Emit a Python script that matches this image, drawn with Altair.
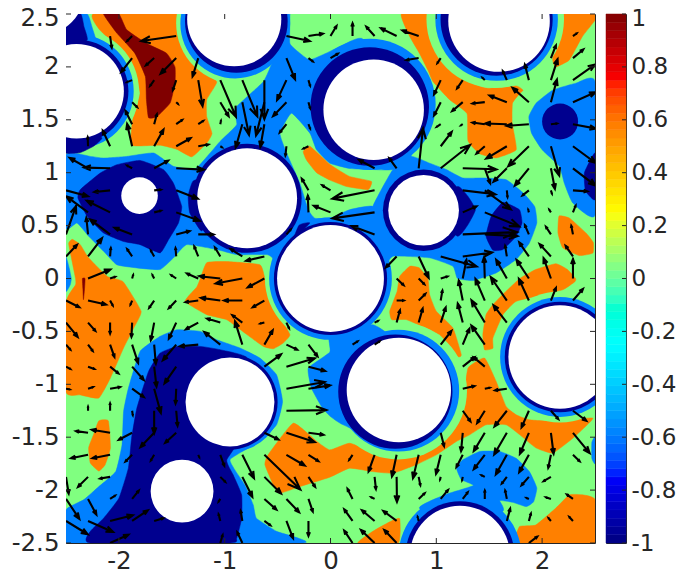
import altair as alt
import pandas as pd

NAVY, AZURE, GREEN, ORANGE, RED = "#00008f", "#0080ff", "#80ff80", "#ff8000", "#800000"
INK = "#262626"
XTICKS = [-2, -1, 0, 1, 2]
YTICKS = [-2.5, -2, -1.5, -1, -0.5, 0, 0.5, 1, 1.5, 2, 2.5]
CTICKS = [-1, -0.8, -0.6, -0.4, -0.2, 0, 0.2, 0.4, 0.6, 0.8, 1]
JET_DOMAIN = [-1, -0.75, -0.25, 0.25, 0.75, 1]
JET_RANGE = ["#000080", "#0000ff", "#00ffff", "#ffff00", "#ff0000", "#800000"]

orange_regions = [
    [(-2.24,2.5),(-1.45,2.5),(-1.447,2.38),(-1.374,2.19),(-1.233,2.0),(-1.075,1.86),(-1.17,1.69),(-1.17,1.53),(-1.12,1.37),(-1.17,1.28),(-1.31,1.15),(-1.45,1.22),(-1.61,1.26),(-1.88,1.26),(-1.87,1.5),(-1.8,1.75),(-1.85,1.94),(-1.94,2.1),(-2.08,2.25),(-2.19,2.36)],
    [(-2.44,.37),(-2.365,.32),(-2.286,.195),(-2.11,.02),(-1.96,-.03),(-1.79,-.31),(-1.86,-.468),(-1.956,-.657),(-2.08,-.94),(-2.19,-1.13),(-2.365,-1.1),(-2.5,-1.07),(-2.5,-.23),(-2.41,-.06),(-2.41,0),(-2.44,.15),(-2.475,.33)],
    [(-1.23,0),(-1.17,.15),(-.98,.16),(-.667,.13),(-.62,0),(-.57,-.153),(-.51,-.31),(-.384,-.53),(-.447,-.61),(-.54,-.664),(-.635,-.642),(-.79,-.53),(-.98,-.39),(-1.17,-.342),(-1.374,-.216),(-1.264,-.08)],
    [(-2.19,-1.345),(-2.1,-1.345),(-2.08,-1.6),(-2.13,-1.76),(-2.19,-1.82),(-2.27,-1.745),(-2.286,-1.6),(-2.24,-1.477)],
    [(-.62,-1.76),(-.59,-1.667),(-.352,-1.367),(-.13,-1.54),(-.006,-1.62),(.18,-1.557),(.40,-1.635),(.62,-1.683),(.84,-1.65),(1.03,-1.57),(1.17,-1.383),(1.25,-1.19),(1.30,-.847),(1.456,-.752),(1.566,-.973),(1.66,-1.21),(1.755,-1.288),(1.88,-1.336),(2.13,-1.35),(2.48,-1.32),(2.29,-1.51),(2.1,-1.65),(1.94,-1.6),(1.79,-1.478),(1.66,-1.383),(1.47,-1.383),(1.315,-1.478),(1.19,-1.54),(1.0,-1.667),(.81,-1.76),(.59,-1.84),(.40,-1.825),(.18,-1.793),(-.006,-1.878),(-.29,-1.967),(-.48,-2.03),(-.54,-1.95)],
    [(.654,.02),(.75,.116),(.84,.1),(.92,0),(.937,-.153),(1.0,-.31),(1.157,-.468),(1.236,-.72),(1.2,-.736),(1.03,-.53),(.72,-.39),(.58,-.39),(.56,-.31),(.63,-.12)],
    [(1.79,0),(1.94,.085),(2.13,.14),(2.24,.085),(2.316,0),(2.31,-.03),(2.2,-.105),(2.01,-.153),(1.755,-.216),(1.63,-.342),(1.535,-.563),(1.535,-.66),(1.456,-.673),(1.44,-.53),(1.47,-.342),(1.535,-.247),(1.66,-.12)],
    [(.67,2.5),(1.03,2.5),(1.25,1.91),(1.47,1.8),(1.755,1.82),(1.82,1.78),(1.786,1.745),(1.72,1.657),(1.717,1.47),(1.755,1.217),(1.566,1.14),(1.41,1.18),(1.3,1.3),(1.29,1.56),(1.126,1.69),(.97,1.86),(.92,1.97),(.84,2.13),(.75,2.286)],
    [(2.195,2.5),(2.5,2.5),(2.5,2.44),(2.38,2.286),(2.258,2.066),(2.13,2.0),(2.1,2.07),(2.13,2.35)],
    [(2.16,.59),(2.26,.57),(2.415,.43),(2.484,.34),(2.48,.24),(2.35,.217),(2.195,.29),(2.15,.43)],
    [(-.258,1.2),(-.195,1.25),(0,1.075),(.18,.965),(.387,.918),(.355,.84),(.15,.87),(-.006,.93),(-.132,1.0),(-.227,1.12)],
    [(.654,-2.27),(.64,-2.5),(.26,-2.5),(.40,-2.39),(.56,-2.3)],
    [(1.77,-2.5),(1.786,-2.345),(1.94,-2.33),(2.13,-2.17),(2.258,-2.045),(2.384,-2.045),(2.5,-2.09),(2.5,-2.5)],
]
red_regions = [
    [(-2.145,2.5),(-2.0,2.5),(-1.925,2.35),(-1.735,2.22),(-1.55,2.13),(-1.47,2.0),(-1.47,1.85),(-1.515,1.66),(-1.64,1.53),(-1.72,1.52),(-1.74,1.69),(-1.75,1.91),(-1.85,2.13),(-2.02,2.32)],
    [(-2.345,0),(-2.32,0),(-2.325,-.1),(-2.335,-.2),(-2.34,-.1)],
]
azure_regions = [
    [(-2.5,1.17),(-2.27,1.154),(-2.145,1.138),(-1.925,1.154),(-1.67,1.186),(-1.484,1.06),(-1.28,1.035),(-1.138,1.186),(-1.044,1.296),(-.887,1.453),(-.9,1.61),(-.635,1.86),(-.54,2.066),(-.415,2.35),(-.384,2.5),(-.384,2.223),(-.29,2.13),(-.195,2.066),(-.04,2.13),(.12,2.208),(.31,2.26),(.62,1.594),(.764,1.154),(.59,1.03),(.40,1.03),(.18,1.04),(-.006,1.09),(-.132,1.217),(-.195,1.374),(-.368,1.563),(-.478,1.374),(-.415,1.186),(-.29,.9),(-.21,.65),(-.148,.57),(0,.57),(.18,.65),(.40,.68),(.42,.4),(.50,.116),(0,0),(-.54,0),(-.54,.18),(-.60,.226),(-.887,.226),(-1.075,.274),(-1.36,.32),(-1.484,.195),(-1.61,.085),(-1.83,.1),(-2.02,.13),(-2.145,.258),(-2.286,.4),(-2.396,.525),(-2.5,.478)],
    [(.764,1.154),(.937,1.09),(1.094,1.03),(1.25,.95),(1.44,.95),(1.66,.934),(1.82,.81),(1.93,.68),(1.95,.525),(1.88,.336),(1.755,.18),(1.566,.053),(1.41,0),(1.346,-.02),(1.2,0),(1.157,.116),(.937,.195),(.59,.21),(.497,.1),(.40,.4),(.40,.68),(.59,1.03)],
    [(-2.5,-2.187),(-2.33,-2.09),(-2.19,-1.967),(-2.03,-1.825),(-1.97,-1.57),(-1.956,-1.257),(-1.91,-1.036),(-1.8,-.689),(-1.61,-.547),(-1.45,-.484),(-1.23,-.5),(-1.075,-.579),(-.855,-.657),(-.667,-.752),(-.51,-.91),(-.453,-1.162),(-.51,-1.383),(-.667,-1.54),(-.95,-1.714),(-.81,-1.95),(-.73,-2.14),(-.7,-2.266),(-.51,-2.39),(-.258,-2.5),(-2.5,-2.5)],
    [(2.5,1.86),(2.32,1.846),(2.1,1.78),(1.943,1.657),(1.875,1.53),(1.9,1.374),(2.0,1.217),(2.164,1.06),(2.21,.9),(2.29,.714),(2.5,.6)],
    [(1.19,-1.79),(1.25,-1.714),(1.41,-1.635),(1.6,-1.635),(1.755,-1.7),(1.88,-1.825),(1.95,-1.98),(1.92,-2.11),(1.85,-2.156),(1.72,-2.115),(1.6,-2.1),(1.63,-2.2),(1.22,-2.487),(.84,-2.17),(1.094,-2.04),(1.35,-1.957),(1.236,-1.9)],
    [(-.006,-.695),(-.21,-.847),(-.18,-1.036),(-.085,-1.21),(-.006,-1.30),(.12,-1.383),(.62,-1.57),(.62,-.626),(.40,-.437),(-.006,-.53)],
    [(-2.5,2.5),(-2.3,2.5),(-2.255,2.38),(-2.21,2.19),(-2.5,2.19)],
    [(-2.5,.2),(-2.47,.1),(-2.45,0),(-2.46,-.06),(-2.5,-.12)],
    [(2.47,-1.55),(2.5,-1.5),(2.5,-1.75),(2.47,-1.7)],
]
navy_regions = [
    [(-2.387,.76),(-2.365,.84),(-2.176,.997),(-2.02,1.075),(-1.8,1.116),(-1.58,1.03),(-1.484,.9),(-1.406,.68),(-1.437,.525),(-1.53,.368),(-1.61,.242),(-1.8,.32),(-1.956,.35),(-2.145,.43),(-2.3,.588)],
    [(-2.5,2.5),(-2.36,2.5),(-2.33,2.38),(-2.3,2.255),(-2.5,2.19)],
    [(-2.5,1.34),(-2.5,1.186),(-2.365,1.19),(-2.24,1.25),(-2.16,1.33),(-2.365,1.4)],
    [(-1.30,.92),(-1.345,.78),(-1.33,.62),(-1.22,.45),(-1.1,.6),(-1.15,.95)],
    [(-.52,.05),(-.46,.24),(-.352,.368),(-.195,.525),(-.3,.5),(-.42,.2)],
    [(1.2,.87),(1.3,.775),(1.37,.65),(1.3,.51),(1.2,.4),(.94,.65)],
    [(2.5,1.186),(2.4,1.0),(2.41,.83),(2.5,.745)],
    [(1.63,.72),(1.786,.65),(1.81,.525),(1.755,.4),(1.63,.274),(1.535,.267),(1.47,.4),(1.52,.59)],
    [(-2.27,-2.5),(-2.27,-2.39),(-2.145,-2.266),(-2.0,-2.077),(-1.91,-1.79),(-1.88,-1.51),(-1.83,-1.225),(-1.72,-.878),(-1.61,-.705),(-1.45,-.642),(-1.23,-.642),(-1.044,-.673),(-.79,-.752),(-.95,-1.167),(-.79,-1.415),(-.98,-1.714),(-.92,-1.856),(-.84,-2.045),(-.84,-2.266),(-.887,-2.456),(-.95,-2.5)],
]
# circles as (centre x, centre y, radius)
green_rings = [(-2.40,1.77,.59),(-.887,2.412,.572),(0,0,.62),(1.557,2.45,.65),(.64,-1.06,.65),(2.169,-.742,.62)]
azure_rings = [(-2.40,1.77,.54),(-.90,2.41,.519),(0,0,.58),(.374,1.645,.62),(1.57,2.447,.579),(.64,-1.06,.576),(2.169,-.742,.566),(1.224,-2.62,.58),(-.95,-1.155,.487)]
navy_rings = [(-2.40,1.77,.49),(-.89,2.43,.485),(-.788,.758,.515),(0,0,.535),(.371,1.625,.56),(1.57,2.447,.53),(.88,.645,.385),(.613,-1.07,.54),(2.169,-.742,.522),(1.224,-2.62,.515),(-.95,-1.167,.45),(2.17,1.484,.17)]
holes = [(-2.40,1.77,.447),(-.91,2.45,.445),(-1.805,.783,.173),(-.788,.758,.472),(0,0,.505),(.408,1.595,.475),(1.593,2.434,.48),(.88,.645,.334),(.646,-1.054,.493),(2.169,-.742,.488),(1.224,-2.62,.472),(-.95,-1.167,.42),(-1.403,-2.01,.297),(-2.72,2.7,.39)]

GRID_START, GRID_STEP = -2.5, 5 / 24
ARROW_SCALE = 1 / 318
# quiver values per grid row: (column, u, v)
quiver = {
 1: [(2,5,-35),(3,-15,-15),(5,-105,-15),(10,70,-15),(11,43,7),(12,18,30),(13,0,38),(14,-25,28),(15,-47,23),(16,-49,17),(23,11,8)],
 2: [(3,-33,-42),(4,-25,-22),(5,-47,-47),(6,-17,-55),(10,26,-64),(11,13,-10),(12,22,13),(16,-37,-6),(17,-10,-15),(22,15,38),(23,31,26)],
 3: [(3,-15,-6),(4,-12,-17),(5,-10,-30),(6,13,-78),(7,47,-110),(8,45,-109),(9,0,-117),(10,-28,-60),(11,5,-17),(17,-20,-43),(18,-17,-25),(19,-7,7),(20,-12,27),(21,-12,47),(22,20,63),(23,66,47)],
 4: [(3,15,-15),(5,5,-5),(7,25,-42),(8,20,-98),(9,-25,-100),(10,-40,-42),(11,5,-18),(17,-20,-40),(18,-32,-27),(19,-37,-4),(20,-52,20),(21,-49,43),(22,18,68),(23,68,30)],
 5: [(3,-20,40),(4,8,30),(5,18,13),(6,15,10),(7,2,10),(8,-20,-70),(9,-12,-68),(10,-20,-25),(11,5,-13),(17,-12,-8),(18,-5,-3),(19,-37,5),(20,-65,2),(21,-67,-5),(22,18,2),(23,68,-13)],
 6: [(1,-1,27),(2,-22,47),(3,-15,67),(4,28,50),(5,43,24),(6,30,5),(7,5,-3),(10,-3,-28),(11,-15,-7),(17,33,43),(19,-25,-22),(20,-62,-37),(21,-62,-60),(22,25,-88),(23,68,-50)],
 7: [(1,-55,31),(2,-78,2),(3,-15,8),(4,42,23),(5,83,-4),(14,-47,25),(15,-22,30),(16,13,120),(17,88,70),(18,101,-3),(19,16,-45),(20,-40,-40),(21,-42,-52),(22,12,-62),(23,68,-52)],
 8: [(0,66,-18),(2,-47,-5),(4,20,2),(5,65,-25),(11,-20,35),(12,-25,15),(14,-127,-25),(18,98,-12),(19,78,-57),(20,2,-20),(21,-19,-15),(22,3,-10),(23,43,-3)],
 9: [(1,-65,48),(2,-70,35),(4,20,5),(5,70,-25),(11,-2,50),(12,-50,20),(14,-127,-18),(18,41,18),(19,103,-42),(21,-2,8),(22,-5,8),(23,8,20)],
 10: [(0,30,85),(1,-5,50),(2,-60,45),(3,-53,20),(5,40,10),(6,46,0),(10,13,15),(14,-69,25),(18,163,7),(19,98,-5),(21,-12,28),(22,-15,23),(23,-5,26)],
 11: [(0,33,35),(1,42,55),(2,2,25),(3,-15,22),(4,-10,18),(5,-2,25),(6,-12,30),(7,-16,27),(8,-35,22),(9,-55,-13),(15,-32,-33),(16,30,-64),(17,108,-30),(18,88,12),(20,-5,32),(21,-29,42),(22,-34,37),(23,-22,32)],
 12: [(1,67,27),(2,15,5),(3,3,10),(4,-5,10),(5,-15,10),(6,-34,15),(7,-63,7),(8,-80,-15),(9,-50,-27),(15,21,-20),(16,17,-17),(17,20,6),(18,11,56),(19,-2,64),(20,-32,56),(21,-37,56),(22,-22,61),(23,0,58)],
 13: [(0,40,-20),(1,54,-12),(2,8,-15),(3,-5,-12),(4,-15,-22),(5,-22,-23),(6,-38,-5),(7,-58,8),(8,-55,0),(9,-35,-20),(15,21,0),(16,20,20),(17,5,30),(18,-12,60),(19,-28,65),(20,-48,70),(21,-30,65),(22,15,38),(23,30,35)],
 14: [(0,35,-43),(1,22,-25),(2,0,-33),(3,-2,-43),(4,-10,-53),(5,-22,-48),(6,-37,-20),(7,-40,12),(8,-30,22),(9,-12,-3),(10,8,-17),(14,10,5),(15,10,37),(16,12,42),(17,15,45),(18,-15,57),(19,-40,67),(20,-40,52)],
 15: [(0,13,-15),(1,14,-19),(2,13,-37),(3,18,-55),(4,5,-58),(5,-40,-47),(6,-55,-5),(7,-48,38),(8,-22,70),(9,25,43),(10,32,-15),(11,27,-35),(13,15,10),(14,15,10),(17,32,41),(18,20,48),(19,-40,57)],
 16: [(0,13,-7),(1,19,-7),(2,25,-20),(3,35,-40),(4,7,-60),(5,-35,-50),(9,50,37),(10,85,25),(11,50,-13),(18,35,28),(19,-33,28)],
 17: [(0,11,-2),(1,15,5),(2,30,5),(3,35,-25),(4,20,-73),(5,-2,-45),(10,115,20),(11,65,10),(18,35,8),(19,15,3),(20,-35,-5)],
 18: [(1,0,12),(2,0,22),(3,2,-13),(4,0,-68),(5,4,-45),(10,120,2),(18,23,-32),(19,-23,-37),(20,-37,-47),(21,-22,-50),(22,22,-25),(23,40,-30)],
 19: [(1,-36,5),(2,-55,9),(3,-40,-21),(4,-41,-43),(5,-33,-30),(9,42,-20),(10,85,-28),(11,45,-6),(17,10,-40),(18,-5,-55),(19,-33,-55),(20,-38,-65),(21,-27,-63),(22,8,-63),(23,50,-61)],
 20: [(1,-51,-10),(2,-53,-10),(3,-20,-20),(4,-10,-17),(6,3,-7),(7,12,-33),(8,35,-70),(9,108,-104),(10,55,-32),(11,30,-19),(13,-10,-15),(14,-18,-50),(15,-14,-65),(16,-17,-70),(17,-14,-57),(18,-19,-37),(19,-33,-43),(20,-33,-59),(21,-29,-52),(22,-8,-39),(23,20,-19)],
 21: [(0,8,-50),(1,-30,-30),(2,-30,-5),(7,15,-15),(8,30,-60),(9,50,-50),(11,20,-30),(14,4,-37),(15,1,-75),(16,5,-25),(17,-2,-8),(18,-2,-10),(19,-10,5),(20,-15,-20),(21,-22,-25),(22,-22,-13)],
 22: [(0,40,-60),(1,25,-47),(2,15,10),(3,20,25),(7,-5,-8),(9,36,-32),(10,38,-40),(11,13,-38),(13,-15,30),(14,-10,5),(16,18,17),(17,22,27),(18,15,20),(19,0,25),(20,-5,25),(21,-7,3),(22,-15,5),(23,-18,13)],
 23: [(0,65,-40),(1,75,-33),(2,68,17),(3,47,32),(4,27,8),(7,-5,20),(8,-5,30),(9,18,-13),(10,20,-52),(11,0,-45),(13,-25,35),(14,-38,32),(15,-40,30),(16,-3,12),(20,10,37),(21,6,22),(22,-7,8),(23,-11,12)],
 24: [(2,55,25),(7,7,24),(8,-15,32),(13,-25,37),(14,-41,39),(15,-37,39),(21,25,19)],
}

def poly_frame(regions):
    rows = [dict(p=k, i=i, x=x, y=y) for k, reg in enumerate(regions) for i, (x, y) in enumerate(reg)]
    return pd.DataFrame(rows)

def circle_frame(items):
    return pd.DataFrame(items, columns=["x", "y", "r"])

def arrow_frame():
    rows = []
    n = 0
    for row, items in quiver.items():
        for col, u, v in items:
            x0 = GRID_START + col * GRID_STEP
            y0 = -GRID_START - row * GRID_STEP
            dx, dy = u * ARROW_SCALE, v * ARROW_SCALE
            tx, ty = x0 + dx, y0 + dy
            pts = [(x0, y0), (tx, ty),
                   (tx - .26 * dx + .1 * dy, ty - .26 * dy - .1 * dx), (tx, ty),
                   (tx - .26 * dx - .1 * dy, ty - .26 * dy + .1 * dx)]
            rows += [dict(a=n, i=i, x=p[0], y=p[1]) for i, p in enumerate(pts)]
            n += 1
    return pd.DataFrame(rows)

SIDE = 529
FS = 24.5
xs = alt.Scale(domain=[-2.5, 2.5], nice=False, zero=False)
ys = alt.Scale(domain=[-2.5, 2.5], nice=False, zero=False)
X = alt.X("x:Q", scale=xs, axis=alt.Axis(values=XTICKS, tickSize=0, grid=False, domain=False, title=None,
          labelFontSize=FS, labelColor=INK, labelFont="DejaVu Sans", labelPadding=6, labelExpr="'' + datum.value"))
Y = alt.Y("y:Q", scale=ys, axis=alt.Axis(values=YTICKS, tickSize=0, grid=False, domain=False, title=None,
          labelFontSize=FS, labelColor=INK, labelFont="DejaVu Sans", labelPadding=7, labelOverlap=False,
          labelOffset={"condition": {"test": "datum.value == 2.5", "value": 4}, "value": 0},
          labelExpr="'' + datum.value"))

def polys(regions, color):
    return alt.Chart(poly_frame(regions)).mark_line(fill=color, stroke=color, strokeWidth=0.5, clip=True,
        interpolate="cardinal-closed", tension=0.6).encode(x=X, y=Y, detail="p:N", order="i:Q")

def discs(items, color):
    return alt.Chart(circle_frame(items)).mark_circle(color=color, opacity=1, clip=True).encode(
        x=X, y=Y, size=alt.Size("r:Q", legend=None,
            scale=alt.Scale(type="pow", exponent=2, domain=[0, 1], range=[0, (2 * SIDE / 5) ** 2])))

field = alt.Chart(pd.DataFrame({"x": [-2.5], "x2": [2.5], "y": [-2.5], "y2": [2.5]})).mark_rect(color=GREEN).encode(
    x=X, x2="x2:Q", y=Y, y2="y2:Q")
arrows = alt.Chart(arrow_frame()).mark_line(color="black", strokeWidth=2.1, clip=True).encode(
    x=X, y=Y, detail="a:N", order="i:Q")

xt = pd.DataFrame({"x": XTICKS})
yt = pd.DataFrame({"y": YTICKS})
ticks = [
    alt.Chart(xt).mark_rule(color=INK).encode(x=X, y=alt.value(SIDE), y2=alt.value(SIDE - 5)),
    alt.Chart(xt).mark_rule(color=INK).encode(x=X, y=alt.value(0), y2=alt.value(5)),
    alt.Chart(yt).mark_rule(color=INK).encode(y=Y, x=alt.value(0), x2=alt.value(5)),
    alt.Chart(yt).mark_rule(color=INK).encode(y=Y, x=alt.value(SIDE), x2=alt.value(SIDE - 5)),
]

main = alt.layer(field, polys(orange_regions, ORANGE), polys(red_regions, RED), discs(green_rings, GREEN),
                 polys(azure_regions, AZURE), discs(azure_rings, AZURE), polys(navy_regions, NAVY),
                 discs(navy_rings, NAVY), discs(holes, "white"), arrows, *ticks).properties(width=SIDE, height=SIDE)

bands = pd.DataFrame({"lo": [-1 + k / 32 for k in range(64)]})
bands["hi"] = bands["lo"] + 1 / 32
bands["mid"] = bands["lo"] + 1 / 64
jet = alt.Scale(domain=JET_DOMAIN, range=JET_RANGE)
cy = alt.Y("lo:Q", scale=alt.Scale(domain=[-1, 1], nice=False, zero=False),
           axis=alt.Axis(orient="right", values=CTICKS, tickSize=0, grid=False, domain=False, title=None,
                         labelFontSize=23, labelColor=INK, labelFont="DejaVu Sans", labelPadding=5, labelOverlap=False,
                         labelOffset={"condition": {"test": "datum.value == 1", "value": 4}, "value": 0},
                         labelExpr="'' + datum.value"))
bar = alt.Chart(bands).mark_rect(strokeWidth=0.5).encode(
    x=alt.value(0), x2=alt.value(20), y=cy, y2="hi:Q",
    fill=alt.Fill("mid:Q", scale=jet, legend=None), stroke=alt.Stroke("mid:Q", scale=jet, legend=None))
cticks = alt.Chart(pd.DataFrame({"lo": CTICKS})).mark_rule(color=INK).encode(y=cy, x=alt.value(20), x2=alt.value(16))
colorbar = alt.layer(bar, cticks).properties(width=20, height=SIDE)

chart = alt.hconcat(main, colorbar, spacing=11, bounds="flush").resolve_scale(color="independent", size="independent").properties(
    autosize=alt.AutoSizeParams(type="none"),
    padding={"left": 58, "top": 6, "right": 611, "bottom": 559}
).configure_view(stroke=INK, strokeWidth=1)

chart.save("out.html", embed_options={"renderer": "svg", "actions": False})
